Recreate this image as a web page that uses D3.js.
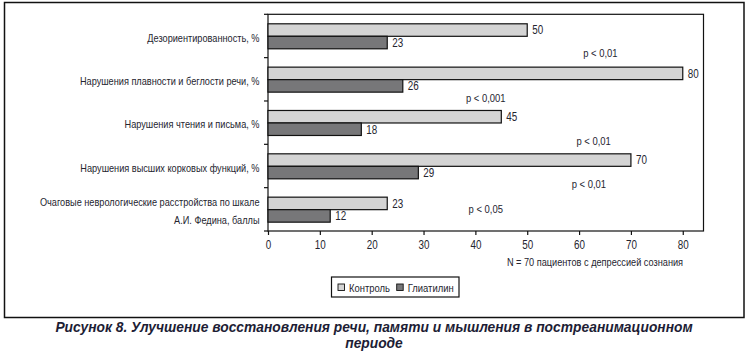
<!DOCTYPE html>
<html><head><meta charset="utf-8">
<script src="https://cdn.jsdelivr.net/npm/d3@7"></script>
<style>
html,body{margin:0;padding:0;background:#fff;}
svg{display:block;}
.nar{font-family:"Liberation Sans",Arial,sans-serif;}
</style></head>
<body>
<svg id="c" width="748" height="356"></svg>
<script>
// ---- data ----
const categories = [
  ["Дезориентированность, %"],
  ["Нарушения плавности и беглости речи, %"],
  ["Нарушения чтения и письма, %"],
  ["Нарушения высших корковых функций, %"],
  ["Очаговые неврологические расстройства по шкале", "А.И. Федина, баллы"]
];
const seriesNames = ["Контроль", "Глиатилин"];
const controlValues = [50, 80, 45, 70, 23];
const gliatilinValues = [23, 26, 18, 29, 12];
const pValues = ["p < 0,01", "p < 0,001", "p < 0,01", "p < 0,01", "p < 0,05"];
const xTicks = [0, 10, 20, 30, 40, 50, 60, 70, 80];
const noteText = "N = 70 пациентов с депрессией сознания";
const titleLines = ["Рисунок 8. Улучшение восстановления речи, памяти и мышления в постреанимационном", "периоде"];

// ---- layout ----
const W = 748, H = 356;
const plot = {left: 268, top: 14.3, right: 703.5, bottom: 231};
const colors = ["#d4d4d4", "#777779"];
const textColor = "#25252f";
const NARROW = 0.82; // narrow-face condensation
// p-label anchors: x in axis units, y as fraction of the category band
const pLayout = [[64.1, 0.88], [42, 0.93], [62.8, 0.91], [61.9, 0.92], [42, 0.49]];

function condense(sel) {
  sel.each(function () {
    const w = this.getComputedTextLength();
    d3.select(this).attr("textLength", w * NARROW).attr("lengthAdjust", "spacingAndGlyphs");
  });
}

const svg = d3.select("#c");
svg.append("rect").attr("width", W).attr("height", H).attr("fill", "#fff");

// outer frame
svg.append("rect").attr("x", 4.5).attr("y", 2.5).attr("width", 739.5).attr("height", 315)
  .attr("fill", "none").attr("stroke", "#111").attr("stroke-width", 1.5);

const x = d3.scaleLinear().domain([0, 84]).range([plot.left, plot.right]);
const y = d3.scaleBand().domain(d3.range(categories.length)).range([plot.top, plot.bottom]).padding(0);
const barH = 12.5, barOff = 9.5;

// plot frame
svg.append("rect").attr("x", plot.left).attr("y", plot.top)
  .attr("width", plot.right - plot.left).attr("height", plot.bottom - plot.top)
  .attr("fill", "none").attr("stroke", "#111").attr("stroke-width", 1.2);

// bars
const seriesVals = [controlValues, gliatilinValues];
seriesVals.forEach((vals, s) => {
  const g = svg.append("g");
  g.selectAll("rect").data(vals).join("rect")
    .attr("x", x(0))
    .attr("y", (d, i) => y(i) + barOff + s * barH)
    .attr("width", d => x(d) - x(0))
    .attr("height", barH)
    .attr("fill", colors[s]).attr("stroke", "#111").attr("stroke-width", 1.2);
  g.selectAll("text").data(vals).join("text")
    .attr("class", "nar")
    .attr("x", d => x(d) + 5)
    .attr("y", (d, i) => y(i) + barOff + s * barH + barH / 2)
    .attr("dy", "0.36em")
    .attr("font-size", 12).attr("fill", textColor)
    .text(d => d)
    .call(condense);
});

// p-values
svg.append("g").selectAll("text").data(pValues).join("text")
  .attr("class", "nar")
  .attr("x", (d, i) => x(pLayout[i][0]))
  .attr("y", (d, i) => y(i) + y.bandwidth() * pLayout[i][1])
  .attr("dy", "0.36em")
  .attr("text-anchor", "middle")
  .attr("font-size", 11.5).attr("fill", textColor)
  .text(d => d)
  .call(condense);

// left axis ticks (band boundaries)
const bounds = d3.range(categories.length + 1).map(i => plot.top + i * y.step());
svg.append("g").selectAll("line").data(bounds).join("line")
  .attr("x1", plot.left - 4).attr("x2", plot.left)
  .attr("y1", d => d).attr("y2", d => d)
  .attr("stroke", "#111").attr("stroke-width", 1.2);

// category labels
categories.forEach((lines, i) => {
  const cy = y(i) + y.bandwidth() / 2 + 1.5;
  const lh = 17.5;
  lines.forEach((t, k) => {
    svg.append("text").attr("class", "nar")
      .attr("x", 259.5)
      .attr("y", cy + (k - (lines.length - 1) / 2) * lh)
      .attr("dy", "0.36em")
      .attr("text-anchor", "end")
      .attr("font-size", 11.2).attr("fill", textColor)
      .text(t)
      .call(condense);
  });
});

// bottom axis
const xAxis = d3.axisBottom(x).tickValues(xTicks).tickSize(4).tickPadding(5);
const ax = svg.append("g").attr("transform", `translate(0,${plot.bottom})`).call(xAxis);
ax.select(".domain").remove();
ax.selectAll("line").attr("stroke", "#111").attr("stroke-width", 1.2);
ax.selectAll("text").attr("class", "nar").attr("font-size", 12).attr("font-family", null)
  .attr("fill", textColor).call(condense);

// note
svg.append("text").attr("class", "nar")
  .attr("x", 595).attr("y", 262)
  .attr("dy", "0.36em").attr("text-anchor", "middle")
  .attr("font-size", 11.2).attr("fill", textColor)
  .text(noteText)
  .call(condense);

// legend
const lg = svg.append("g");
lg.append("rect").attr("x", 331.5).attr("y", 277).attr("width", 127.5).attr("height", 20)
  .attr("fill", "#fff").attr("stroke", "#111").attr("stroke-width", 1.2);
const legX = [338, 396.7];
seriesNames.forEach((n, s) => {
  lg.append("rect").attr("x", legX[s]).attr("y", 284).attr("width", 6.5).attr("height", 6.5)
    .attr("fill", colors[s]).attr("stroke", "#111").attr("stroke-width", 0.9);
  lg.append("text").attr("class", "nar").attr("x", legX[s] + 11).attr("y", 287.5)
    .attr("dy", "0.36em").attr("font-size", 11.5).attr("fill", textColor).text(n)
    .call(condense);
});

// title
titleLines.forEach((t, k) => {
  svg.append("text")
    .attr("x", 374).attr("y", 327 + k * 16.5)
    .attr("dy", "0.36em").attr("text-anchor", "middle")
    .attr("font-family", "'Liberation Sans', Arial, sans-serif")
    .attr("font-weight", "bold").attr("font-style", "italic")
    .attr("font-size", 13.8).attr("fill", "#1d1d35")
    .text(t);
});
</script>
</body></html>
